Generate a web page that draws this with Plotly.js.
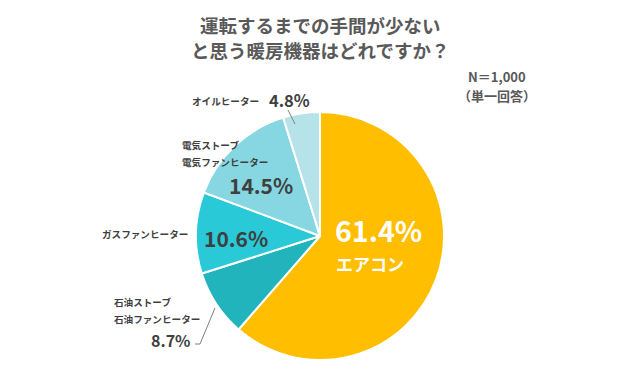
<!DOCTYPE html>
<html><head><meta charset="utf-8">
<script src="https://cdn.plot.ly/plotly-3.0.1.min.js"></script>
<style>html,body{margin:0;padding:0;background:#fff}#chart{width:640px;height:370px}</style>
</head><body><div id="chart"></div>
<script>
const categories = ["エアコン", "石油ストーブ\n石油ファンヒーター", "ガスファンヒーター", "電気ストーブ\n電気ファンヒーター", "オイルヒーター"];
const values = [61.4, 8.7, 10.6, 14.5, 4.8];
const colors = ["#FFBE00", "#22B4BD", "#29C9D7", "#86D7E1", "#B5E3E9"];
const titleLines = ["運転するまでの手間が少ない", "と思う暖房機器はどれですか？"];
const noteLines = ["N＝1,000", "（単一回答）"];

const W = 640, H = 370;
const FONT = "Noto Sans CJK JP, sans-serif";
const px = x => x / W, py = y => 1 - y / H;
const pct = v => v.toFixed(1) + "%";
const cx = 320, cy = 236, R = 124;

const trace = {
  type: "pie",
  values: values,
  labels: categories,
  marker: {colors: colors, line: {color: "#ffffff", width: 2}},
  sort: false,
  direction: "clockwise",
  rotation: 0,
  textinfo: "none",
  hoverinfo: "label+value",
  domain: {x: [px(cx - R), px(cx + R)], y: [py(cy + R), py(cy - R)]}
};

const dark = "#3f3f3f";
function ann(x, y, text, size, color, anchor) {
  return {xref: "paper", yref: "paper", x: px(x), y: py(y), text: text, showarrow: false,
    xanchor: anchor || "left", yanchor: "middle", align: "left",
    font: {family: FONT, size: size, color: color || dark, weight: 700}};
}
const lbl = c => c.split("\n");
const SMALL = 9.6;
const annotations = [
  ann(320, 25, titleLines[0], 18.5, "#595959", "center"),
  ann(320, 50, titleLines[1], 18.5, "#595959", "center"),
  ann(497, 76, noteLines[0], 13, "#595959", "center"),
  ann(497, 95, noteLines[1], 13, "#595959", "center"),
  // エアコン
  ann(333, 229, pct(values[0]), 28.5, "#ffffff"),
  ann(334, 263, categories[0], 17, "#ffffff"),
  // 石油
  ann(112, 302, lbl(categories[1])[0], SMALL),
  ann(112, 319, lbl(categories[1])[1], SMALL),
  ann(193, 340, pct(values[1]), 16, dark, "right"),
  // ガス
  ann(190, 234, categories[2], SMALL, dark, "right"),
  ann(202, 238, pct(values[2]), 21),
  // 電気
  ann(180, 145, lbl(categories[3])[0], SMALL),
  ann(180, 162, lbl(categories[3])[1], SMALL),
  ann(227, 185, pct(values[3]), 21),
  // オイル
  ann(261, 101, categories[4], SMALL, dark, "right"),
  ann(267, 100, pct(values[4]), 16.5)
];
const lineStyle = {color: "#7f7f7f", width: 1};
function seg(x0, y0, x1, y1) {
  return {type: "line", xref: "paper", yref: "paper", x0: px(x0), y0: py(y0), x1: px(x1), y1: py(y1), line: lineStyle};
}
const leaders = [seg(288, 110, 295, 124), seg(215, 308, 200, 344), seg(200, 344, 195, 344)];

Plotly.newPlot("chart", [trace], {
  width: W, height: H,
  margin: {l: 0, r: 0, t: 0, b: 0},
  paper_bgcolor: "#ffffff",
  showlegend: false,
  annotations: annotations,
  shapes: leaders
}, {displayModeBar: false, staticPlot: true});
</script></body></html>
